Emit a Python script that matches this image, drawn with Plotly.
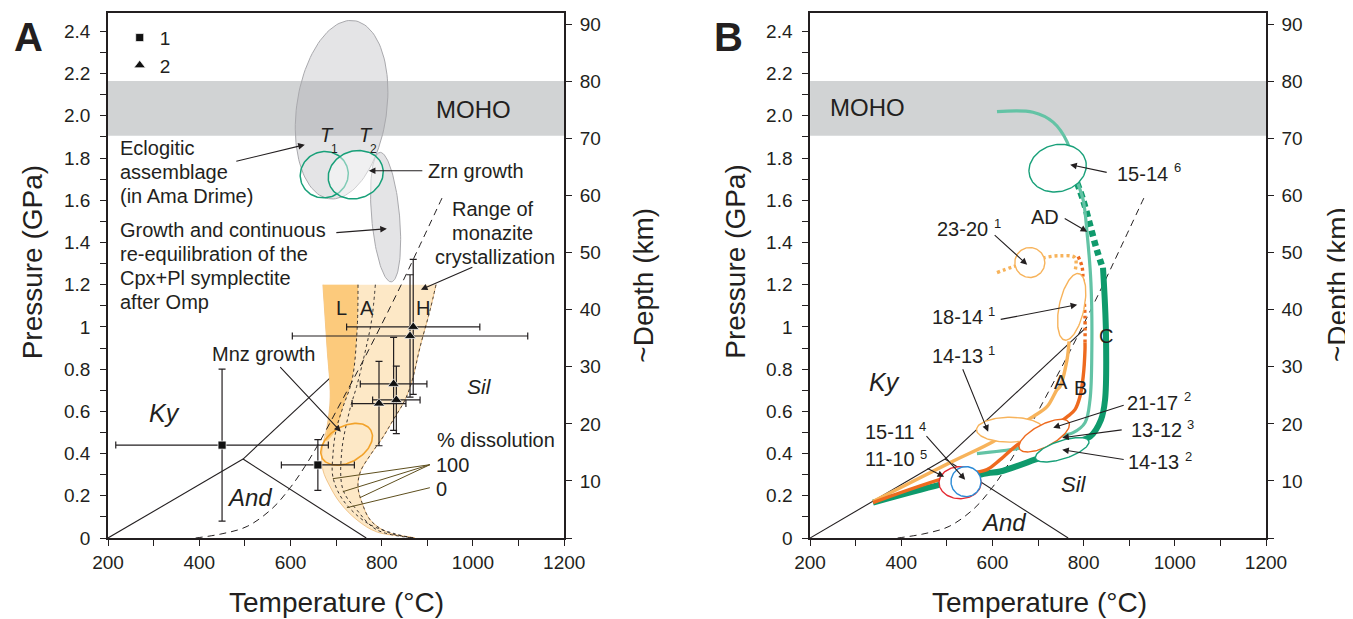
import numpy as np
import plotly.graph_objects as go

W, H = 1353, 619
OFF = 8                      # browser body margin
FW, FH = W - OFF, H - OFF    # figure size that fits the window
FONT = "Liberation Sans, Arial, Helvetica, sans-serif"
INK = "#231f20"

# ---------------- axes data ----------------
T_RANGE = [200, 1200]
P_RANGE = [0, 2.487]
KM_PER_GPA = 37.0
p_ticks = [round(0.1 * i, 1) for i in range(25)]
p_labels = ["0", "", "0.2", "", "0.4", "", "0.6", "", "0.8", "", "1", "", "1.2", "",
            "1.4", "", "1.6", "", "1.8", "", "2.0", "", "2.2", "", "2.4"]
t_ticks = list(range(200, 1201, 100))
t_labels = ["200", "", "400", "", "600", "", "800", "", "1000", "", "1200"]
km_ticks = list(range(0, 91, 10))
km_labels = [""] + [str(v) for v in range(10, 91, 10)]

moho_P = [1.905, 2.165]

# aluminosilicate reactions
ky_and_T = [200, 496]; ky_and_P = [0, 0.374]
and_sil_T = [496, 766]; and_sil_P = [0.374, 0]
ky_sil_T = [496, 807]; ky_sil_P = [0.374, 1.0]

# dashed curve
dash_T = [392, 450, 505, 560, 600, 632, 665, 700, 764, 836, 880, 932]
dash_P = [0, 0.02, 0.055, 0.14, 0.24, 0.34, 0.46, 0.6, 0.86, 1.17, 1.37, 1.61]

# monazite crystallization field (panel A)
mnz_T = [671, 680, 687, 680, 669, 671, 687, 709, 746, 790, 862, 873,
         812, 775, 757, 748, 753, 775, 803, 825, 851, 867, 884, 906, 919]
mnz_P = [1.2, 0.905, 0.668, 0.526, 0.417, 0.322, 0.242, 0.166, 0.085, 0.028, 0.005, 0,
         0.028, 0.085, 0.166, 0.242, 0.313, 0.393, 0.479, 0.559, 0.654, 0.749, 0.905, 1.08, 1.2]
L_T = [671, 680, 687, 683, 678, 700, 715, 735, 746, 748]
L_P = [1.2, 0.905, 0.668, 0.55, 0.46, 0.512, 0.62, 0.749, 0.986, 1.2]
d1_T = [748, 746, 735, 715, 700, 693, 693, 715, 768, 829, 869]
d1_P = [1.2, 0.986, 0.749, 0.62, 0.512, 0.393, 0.289, 0.18, 0.071, 0.02, 0]
d2_T = [786, 778, 763, 745, 730, 712, 715, 745, 789, 869]
d2_P = [1.2, 1.034, 0.876, 0.718, 0.608, 0.403, 0.229, 0.134, 0.039, 0]
rb_T = [919, 906, 884, 867, 851, 825, 803, 775, 753, 748, 757, 775, 812, 873]
rb_P = [1.2, 1.08, 0.905, 0.749, 0.654, 0.559, 0.479, 0.393, 0.313, 0.242, 0.166, 0.085, 0.028, 0]

# P-T estimates (panel A)
sq_T = [450, 660]; sq_P = [0.44, 0.346]; sq_dT = [233, 80]; sq_dP = [0.36, 0.12]
tri_T = [869, 862, 826, 832, 794]
tri_P = [1.0, 0.957, 0.73, 0.654, 0.637]
tri_dT = [146, 258, 73, 52, 59]
tri_dP = [0.32, 0.29, 0.22, 0.16, 0.2]

# ellipses panel A: center T, P ; half widths ; tilt
A_ell_T = [712, 808.5, 674, 743, 723]
A_ell_P = [2.029, 1.52, 1.721, 1.721, 0.444]
A_ell_rT = [98.7, 30.7, 53, 61.4, 61.4]
A_ell_rP = [0.426, 0.308, 0.109, 0.112, 0.085]
A_ell_tilt = [-8, 5, 20, 20, 30]

# panel B paths
teal_T = [610, 689, 733, 764, 785, 799, 807.5, 816, 818, 814, 803, 777, 742, 704, 667, 566]
teal_P = [2.02, 2.017, 1.97, 1.875, 1.696, 1.602, 1.446, 1.21, 0.892, 0.655, 0.546, 0.499, 0.48, 0.451, 0.428, 0.40]
Cdot_T = [785.5, 799, 814, 829, 842.5]
Cdot_P = [1.683, 1.60, 1.483, 1.365, 1.275]
C_T = [842.5, 849, 847, 838, 814, 785.5, 753, 693, 617, 588, 485, 338]
C_P = [1.28, 0.97, 0.655, 0.56, 0.48, 0.456, 0.42, 0.371, 0.315, 0.306, 0.253, 0.168]
Bdot_T = [788, 796.5, 799, 803, 803]
Bdot_P = [1.333, 1.285, 1.21, 1.049, 0.926]
B_T = [803, 803, 799, 792, 781, 763.6, 713, 660.5, 617, 588, 507, 338]
B_P = [0.926, 0.892, 0.764, 0.67, 0.608, 0.574, 0.50, 0.45, 0.371, 0.324, 0.291, 0.168]
Adot_T = [610, 645, 682, 715, 748, 781, 781]
Adot_P = [1.257, 1.285, 1.305, 1.328, 1.337, 1.328, 1.262]
A_T = [768, 763.6, 748, 741.7, 719.7, 689, 639, 601, 507, 338]
A_P = [0.931, 0.845, 0.717, 0.703, 0.622, 0.575, 0.51, 0.456, 0.357, 0.173]

B_ell_T = [743, 682, 773.8, 638.6, 713.5, 753, 529, 542]
B_ell_P = [1.752, 1.305, 1.095, 0.513, 0.485, 0.418, 0.262, 0.267]
B_ell_rT = [63.6, 32.9, 27.4, 73.5, 61.4, 61.4, 46.1, 32.9]
B_ell_rP = [0.111, 0.071, 0.161, 0.059, 0.052, 0.043, 0.076, 0.071]
B_ell_tilt = [15, 0, -12, 0, 28, 18, 0, 0]

# ---------------- styles ----------------
C_LORANGE = "#f7b35b"
C_ORED = "#ee6a1f"
C_TEAL = "#63c3a5"
C_GREEN = "#0f9a6c"
C_GEL = "#18a079"
C_RED = "#e42a32"
C_BLUE = "#2a8ad6"
B_ell_col = [C_GEL, C_LORANGE, C_LORANGE, C_LORANGE, C_ORED, C_GEL, C_RED, C_BLUE]

PX_T = 0.456   # px per degC
PX_P = 211.1   # px per GPa

# plot area in (window) pixels
PL, PR, PT, PB = 108.3, 1265.7, 13.3, 538.3
PW, PH = PR - PL, PB - PT


def ellipse(Tc, Pc, rT, rP, tilt, n=120):
    t = np.linspace(0, 2 * np.pi, n)
    a, b = rT * PX_T, rP * PX_P
    th = np.radians(tilt)
    x, y = a * np.cos(t), b * np.sin(t)
    xr = x * np.cos(th) - y * np.sin(th)
    yr = x * np.sin(th) + y * np.cos(th)
    return Tc + xr / PX_T, Pc + yr / PX_P


fig = go.Figure()


def line(T, P, xa, ya, color, width=1.0, dash="solid", shape="spline", fill=None, fillcolor=None):
    fig.add_trace(go.Scatter(x=T, y=P, xaxis=xa, yaxis=ya, mode="lines",
                             line=dict(color=color, width=width, dash=dash, shape=shape),
                             fill=fill, fillcolor=fillcolor, showlegend=False, hoverinfo="skip"))


for xa, ya in (("x", "y"), ("x2", "y2")):
    line(ky_and_T, ky_and_P, xa, ya, INK, 1.1, shape="linear")
    line(and_sil_T, and_sil_P, xa, ya, INK, 1.1, shape="linear")
    line(ky_sil_T, ky_sil_P, xa, ya, INK, 1.1, shape="linear")

# ---------------- panel A ----------------
line(mnz_T, mnz_P, "x", "y", "rgba(230,160,70,0.7)", 0.8, fill="toself", fillcolor="#fde8c6")
line(L_T, L_P, "x", "y", "rgba(0,0,0,0)", 0, fill="toself", fillcolor="#fcca7c")
line(d1_T, d1_P, "x", "y", INK, 0.9, dash="3px,3px")
line(d2_T, d2_P, "x", "y", INK, 0.9, dash="3px,3px")
line(rb_T, rb_P, "x", "y", INK, 0.8, dash="3px,3px")
line(dash_T, dash_P, "x", "y", INK, 1.0, dash="7px,5px")

for i in range(2):
    ex, ey = ellipse(A_ell_T[i], A_ell_P[i], A_ell_rT[i], A_ell_rP[i], A_ell_tilt[i])
    line(ex, ey, "x", "y", "#a9a9ad", 1.0, shape="linear", fill="toself", fillcolor="rgba(165,166,172,0.30)")
ex, ey = ellipse(A_ell_T[2], A_ell_P[2], A_ell_rT[2], A_ell_rP[2], A_ell_tilt[2])
line(ex, ey, "x", "y", C_GEL, 1.5, shape="linear")
ex, ey = ellipse(A_ell_T[3], A_ell_P[3], A_ell_rT[3], A_ell_rP[3], A_ell_tilt[3])
line(ex, ey, "x", "y", C_GEL, 1.5, shape="linear", fill="toself", fillcolor="rgba(255,255,255,0.45)")
ex, ey = ellipse(A_ell_T[4], A_ell_P[4], A_ell_rT[4], A_ell_rP[4], A_ell_tilt[4])
line(ex, ey, "x", "y", "#f2a22a", 1.6, shape="linear")

err = dict(type="data", thickness=1.2, width=3.5, color=INK)
fig.add_trace(go.Scatter(x=sq_T, y=sq_P, mode="markers", name="1", legendgroup="1",
                         marker=dict(symbol="square", size=8, color="#111", line=dict(color="white", width=0.7)),
                         error_x=dict(array=sq_dT, **err), error_y=dict(array=sq_dP, **err),
                         xaxis="x", yaxis="y", hoverinfo="skip"))
fig.add_trace(go.Scatter(x=tri_T, y=tri_P, mode="markers", name="2", legendgroup="2",
                         marker=dict(symbol="triangle-up", size=10, color="#111", line=dict(color="white", width=0.7)),
                         error_x=dict(array=tri_dT, **err), error_y=dict(array=tri_dP, **err),
                         xaxis="x", yaxis="y", hoverinfo="skip"))

# ---------------- panel B ----------------
line(dash_T, dash_P, "x2", "y2", INK, 1.0, dash="7px,5px")
line(C_T, C_P, "x2", "y2", C_GREEN, 6)
line(Cdot_T, Cdot_P, "x2", "y2", C_GREEN, 6.5, dash="6px,4px")
line(teal_T, teal_P, "x2", "y2", C_TEAL, 3.2)
line(A_T, A_P, "x2", "y2", C_LORANGE, 3.4)
line(Adot_T, Adot_P, "x2", "y2", C_LORANGE, 3.4, dash="3px,3px")
line(B_T, B_P, "x2", "y2", C_ORED, 3.4)
line(Bdot_T, Bdot_P, "x2", "y2", C_ORED, 3.4, dash="3px,3px")
for i in range(len(B_ell_T)):
    ex, ey = ellipse(B_ell_T[i], B_ell_P[i], B_ell_rT[i], B_ell_rP[i], B_ell_tilt[i])
    line(ex, ey, "x2", "y2", B_ell_col[i], 1.4, shape="linear", fill="toself", fillcolor="white")

for xa, ya in (("x", "y3"), ("x2", "y4")):
    fig.add_trace(go.Scatter(x=[None], y=[None], xaxis=xa, yaxis=ya, showlegend=False, hoverinfo="skip"))

# ---------------- layout ----------------
xdomA = [0, (564.3 - PL) / PW]
xdomB = [(810.0 - PL) / PW, 1]
tickfont = dict(family=FONT, size=19, color=INK)
common_x = dict(range=T_RANGE, tickvals=t_ticks, ticktext=t_labels, ticks="outside", ticklen=6,
                tickwidth=1.2, tickcolor=INK, showline=True, linecolor=INK, linewidth=1.5,
                mirror=True, showgrid=False, zeroline=False, tickfont=tickfont, automargin=False)
common_y = dict(range=P_RANGE, tickvals=p_ticks, ticktext=p_labels, ticks="outside", ticklen=6,
                tickwidth=1.2, tickcolor=INK, showline=True, linecolor=INK, linewidth=1.5,
                showgrid=False, zeroline=False, tickfont=tickfont, domain=[0, 1], automargin=False,
                ticklabelstandoff=6)
common_km = dict(range=[0, P_RANGE[1] * KM_PER_GPA], tickvals=km_ticks, ticktext=km_labels,
                 ticks="outside", ticklen=6, tickwidth=1.2, tickcolor=INK, showline=True,
                 linecolor=INK, linewidth=1.5, showgrid=False, zeroline=False, tickfont=tickfont,
                 side="right", automargin=False, ticklabelstandoff=4)


def px(x):
    return (x - PL) / PW


def py(y):
    return (PB - y) / PH


shapes = []
for xr in ("x", "x2"):
    yr = "y" if xr == "x" else "y2"
    shapes.append(dict(type="rect", xref=xr, yref=yr, x0=T_RANGE[0], x1=T_RANGE[1],
                       y0=moho_P[0], y1=moho_P[1], fillcolor="#d1d3d4", line=dict(width=0), layer="below"))

lead_col = "#5e4f1e"
for (x0, y0, x1, y1) in [(430, 465, 333, 479), (430, 465, 343, 492), (430, 465, 360, 498), (430, 488, 347, 508)]:
    shapes.append(dict(type="line", xref="paper", yref="paper", x0=px(x0), y0=py(y0),
                       x1=px(x1), y1=py(y1), line=dict(color=lead_col, width=1)))

ann = []


def txt(x, y, s, size=20, anchor="center", italic=False, bold=False, angle=0):
    if italic:
        s = "<i>" + s + "</i>"
    if bold:
        s = "<b>" + s + "</b>"
    ann.append(dict(xref="paper", yref="paper", x=px(x), y=py(y), text=s, showarrow=False,
                    xanchor=anchor, yanchor="middle", textangle=angle,
                    font=dict(family=FONT, size=size, color=INK)))


def arr(x0, y0, x1, y1):
    ann.append(dict(xref="paper", yref="paper", x=px(x1), y=py(y1), axref="pixel", ayref="pixel",
                    ax=x0 - x1, ay=y0 - y1, text="", showarrow=True, arrowhead=2, arrowsize=1.2,
                    arrowwidth=1.1, arrowcolor=INK, standoff=0, startstandoff=0))


txt(29, 37, "A", 40, bold=True)
txt(728, 37, "B", 40, bold=True)
txt(33, 262, "Pressure (GPa)", 28, angle=-90)
txt(337, 603, "Temperature (°C)", 28)
txt(644, 285, "~Depth (km)", 28, angle=-90)
txt(736, 262, "Pressure (GPa)", 28, angle=-90)
txt(1039, 603, "Temperature (°C)", 28)
txt(1337, 285, "~Depth (km)", 28, angle=-90)

# panel A labels
txt(474, 110, "MOHO", 24)
txt(118, 148, "Eclogitic", 20, "left")
txt(118, 172, "assemblage", 20, "left")
txt(118, 196, "(in Ama Drime)", 20, "left")
txt(426, 171, "Zrn growth", 20, "left")
txt(118, 230, "Growth and continuous", 20, "left")
txt(118, 254, "re-equilibration of the", 20, "left")
txt(118, 278, "Cpx+Pl symplectite", 20, "left")
txt(118, 302, "after Omp", 20, "left")
txt(493, 209, "Range of", 20)
txt(493, 233, "monazite", 20)
txt(495, 257, "crystallization", 20)
txt(327, 135, "T", 20, italic=True)
txt(335, 149, "1", 12)
txt(366, 135, "T", 20, italic=True)
txt(374, 149, "2", 12)
txt(264, 354, "Mnz growth", 20)
txt(165, 413, "Ky", 25, italic=True)
txt(250, 498, "And", 24, italic=True)
txt(480, 387, "Sil", 21, italic=True)
txt(342, 308, "L", 20)
txt(367, 308, "A", 20)
txt(423, 308, "H", 20)
txt(435, 440, "% dissolution", 20, "left")
txt(434, 465, "100", 20, "left")
txt(434, 489, "0", 20, "left")
arr(235, 162, 305, 145)
arr(424, 171, 369, 171)
arr(335, 233, 387, 229)
arr(474, 267, 421, 290)
arr(279, 366, 341, 432)

# panel B labels
txt(867, 108, "MOHO", 24)
txt(1115, 174, "15-14", 20, "left"); txt(1177, 168, "6", 13)
txt(1045, 217, "AD", 20)
txt(935, 229, "23-20", 20, "left"); txt(997, 224, "1", 13)
txt(930, 317, "18-14", 20, "left"); txt(991, 312, "1", 13)
txt(930, 356, "14-13", 20, "left"); txt(991, 351, "1", 13)
txt(1125, 403, "21-17", 20, "left"); txt(1187, 397, "2", 13)
txt(1129, 430, "13-12", 20, "left"); txt(1190, 425, "3", 13)
txt(1126, 462, "14-13", 20, "left"); txt(1188, 457, "2", 13)
txt(863, 432, "15-11", 20, "left"); txt(922, 427, "4", 13)
txt(863, 459, "11-10", 20, "left"); txt(923, 455, "5", 13)
txt(1061, 382, "A", 20)
txt(1080, 388, "B", 20)
txt(1106, 336, "C", 20)
txt(884, 382, "Ky", 25, italic=True)
txt(1074, 485, "Sil", 22, italic=True)
txt(1003, 523, "And", 24, italic=True)
arr(1108, 173, 1070, 165)
arr(1063, 218, 1087, 232)
arr(993, 234, 1027, 265)
arr(999, 320, 1077, 305)
arr(962, 368, 988, 432)
arr(1125, 405, 1053, 428)
arr(1123, 430, 1062, 438)
arr(1125, 460, 1062, 450)
arr(925, 435, 965, 480)
arr(926, 468, 944, 477)

fig.update_layout(
    width=FW, height=FH,
    margin=dict(l=PL - OFF, r=FW - (PR - OFF), t=PT - OFF, b=FH - (PB - OFF), pad=0, autoexpand=False),
    paper_bgcolor="white", plot_bgcolor="white",
    font=dict(family=FONT, color=INK),
    xaxis=dict(domain=xdomA, anchor="y", **common_x),
    yaxis=dict(anchor="x", **common_y),
    xaxis2=dict(domain=xdomB, anchor="y2", **common_x),
    yaxis2=dict(anchor="x2", **common_y),
    yaxis3=dict(overlaying="y", anchor="x", **common_km),
    yaxis4=dict(overlaying="y2", anchor="x2", **common_km),
    shapes=shapes, annotations=ann,
    showlegend=True,
    legend=dict(x=px(120), y=py(19), xanchor="left", yanchor="top", traceorder="grouped",
                tracegroupgap=0, bgcolor="rgba(0,0,0,0)", font=dict(family=FONT, size=19, color=INK),
                itemwidth=30),
)

fig.write_html("out.html")
